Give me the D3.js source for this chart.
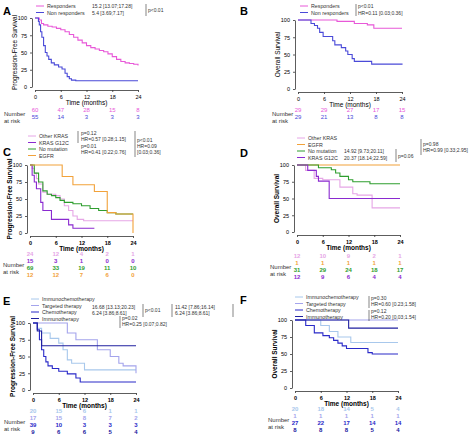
<!DOCTYPE html>
<html><head><meta charset="utf-8">
<script src="https://cdn.jsdelivr.net/npm/d3@7"></script>
<style>body{margin:0;background:#fff}text{font-family:"Liberation Sans",Arial,sans-serif}</style>
</head><body><svg id="c" width="474" height="440"></svg>
<script>
// survival curves: [months, % surviving]
const aResp = [[0,100],[1,97],[1.5,92],[2,90],[3,88],[4,87],[5,85],[6,83],[7,80],[8,76],[9,72],[10,68],[11,64],[12,60],[13,57],[14,55],[15,53],[16,51],[17,48],[18,44],[19,40],[20,37],[21,35],[22,34],[23,33],[24,31]];
const aNon = [[0,100],[0.8,95],[1,90],[1.3,80],[1.6,72],[2,60],[2.4,50],[2.8,45],[3.2,40],[3.8,35],[4.5,32],[5.5,29],[6.3,26],[7,20],[7.5,15],[8,12],[8.5,10],[9.5,9],[24,9]];
const bResp = [[0,100],[9,98],[13,95],[16,93],[17.5,88],[24,88]];
const bNon = [[0,100],[3,95],[3.8,92],[4.5,88],[5,82],[5.8,76],[8,70],[8.5,64],[10,60],[11,55],[11.5,50],[12.5,44],[13,40],[17,36],[24,35]];
const cOther = [[0,100],[0.5,95],[1,88],[1.5,80],[2,72],[3,60],[4,57],[6,55],[7,50],[8,40],[9,33],[10,25],[11,20],[12.5,18],[24,18]];
const cG12C = [[0,100],[0.5,85],[1,75],[1.5,65],[2.5,45],[3,33],[5,20],[9,12],[10,7],[15,7]];
const cNoMut = [[0,100],[1,88],[2,75],[3,62],[4,57],[5,55],[6,52],[7,48],[8,45],[10,43],[12,40],[14,36],[16,33],[18,30],[20,28],[24,28]];
const cEGFR = [[0,100],[7.5,83],[10,71],[15,61],[18,30],[20,28],[23.9,28],[24,0]];
const dEGFR = [[0,100],[24,100]];
const dNoMut = [[0,100],[5,96],[8,93],[9,88],[10,83],[12,78],[13,75],[17,72],[24,72]];
const dG12C = [[0,100],[2.5,92],[4.5,83],[5,76],[7.5,50],[24,50]];
const dOther = [[0,100],[2,92],[4,80],[6,78],[10,67],[13,57],[14,55],[17.5,36],[24,36]];
const eImmChemo = [[0,100],[1,92],[2,85],[4,77],[6,70],[7,60],[8,45],[9,40],[12,30],[24,30]];
const eTarget = [[0,100],[4,100],[8,85],[10,75],[15,60],[18,50],[20,40],[21,36],[23.9,36],[24,25]];
const eChemo = [[0,100],[1,90],[1.5,75],[2,60],[2.5,50],[3,42],[3.5,36],[4.5,32],[6,28],[8,24],[10,18],[11,12],[24,12]];
const eImmuno = [[0,100],[1,88],[2,66],[24,66]];
const fImmChemo = [[0,100],[6,92],[8,83],[10,75],[13,67],[24,67]];
const fTarget = [[0,100],[24,100]];
const fChemo = [[0,100],[2.5,92],[4.5,81],[6.5,77],[8,74],[9,70],[10,66],[11,62],[12,58],[17,52],[18,50],[24,50]];
const fImmuno = [[0,100],[12.5,88],[24,88]];
// number at risk rows
const timeTicks = [0,6,12,18,24];
const yTicks = [0,25,50,75,100];
const riskA = [[60,47,28,15,8],[55,14,3,3,3]];
const riskB = [[29,29,27,17,15],[29,21,13,8,8]];
const riskC = [[24,12,4,2,1],[15,3,1,0,0],[69,33,19,11,10],[12,12,7,6,0]];
const riskD = [[12,10,9,2,1],[1,1,1,1,1],[31,29,24,18,17],[12,9,6,4,4]];
const riskE = [[20,15,6,1,1],[17,15,8,7,2],[39,10,3,3,3],[9,6,6,5,4]];
const riskF = [[20,18,14,5,4],[1,1,1,1,1],[27,22,17,14,14],[8,8,8,5,4]];

const pink="#e858d8", blue="#4a4ad8", lpink="#e6a6e6", purple="#8a2ad0", green="#2f9e2f", orange="#f2a23a",
      lblue="#a8c8ec", lav="#a4a4ec", dblue="#2a2ac8", navy="#2020a0";

const svg = d3.select("#c");

function panel(o){
  const x = d3.scaleLinear().domain([0,24]).range([o.x0,o.x1]);
  const y = d3.scaleLinear().domain([0,100]).range([o.y0,o.y1]);
  const g = svg.append("g");
  g.append("text").attr("x",o.lx).attr("y",o.ly).attr("font-size",11).attr("font-weight","bold").text(o.letter);
  g.append("g").attr("transform",`translate(0,${o.y0+3})`)
    .call(d3.axisBottom(x).tickValues(timeTicks).tickSize(2).tickSizeOuter(0))
    .call(a=>a.selectAll("text").attr("font-size",5.5).attr("font-weight",o.bold?"bold":null));
  g.append("g").attr("transform",`translate(${o.x0-3},0)`)
    .call(d3.axisLeft(y).tickValues(yTicks).tickSize(2).tickSizeOuter(0))
    .call(a=>a.selectAll("text").attr("font-size",5.5));
  g.selectAll(".domain,.tick line").attr("stroke","#333").attr("stroke-width",0.8);
  g.append("text").attr("x",(o.x0+o.x1)/2).attr("y",o.y0+18).attr("text-anchor","middle")
    .attr("font-size",6.5).attr("font-weight",o.bold?"bold":null).text("Time (months)");
  g.append("text").attr("transform",`translate(${o.x0-18},${(o.y0+o.y1)/2}) rotate(-90)`)
    .attr("text-anchor","middle").attr("font-size",6.5).attr("font-weight",o.bold?"bold":null).text(o.ylab);
  const line = d3.line().x(d=>x(d[0])).y(d=>y(d[1])).curve(d3.curveStepAfter);
  o.series.forEach(s=>{
    g.append("path").datum(s.data).attr("d",line).attr("fill","none").attr("stroke",s.color).attr("stroke-width",1.1);
  });
  // legend
  o.series.forEach((s,i)=>{
    const ly = o.legY + i*6.5;
    g.append("line").attr("x1",o.legX).attr("x2",o.legX+8).attr("y1",ly-2).attr("y2",ly-2).attr("stroke",s.color).attr("stroke-width",1);
    g.append("text").attr("x",o.legX+11).attr("y",ly).attr("font-size",5.3).attr("fill","#333").text(s.name);
  });
  (o.notes||[]).forEach(n=>{
    g.append("text").attr("x",n[0]).attr("y",n[1]).attr("font-size",5).attr("fill","#333").text(n[2]);
  });
  (o.bars||[]).forEach(b=>{
    g.append("line").attr("x1",b[0]).attr("x2",b[0]).attr("y1",b[1]).attr("y2",b[2]).attr("stroke","#333").attr("stroke-width",0.6);
  });
  // risk table
  const n = o.risk.length;
  const mid = o.riskY + (n-1)*3.5;
  g.append("text").attr("x",o.rlx).attr("y",mid).attr("font-size",6).attr("fill","#333").text("Number");
  g.append("text").attr("x",o.rlx).attr("y",mid+7).attr("font-size",6).attr("fill","#333").text("at risk");
  o.risk.forEach((row,i)=>{
    g.selectAll(null).data(row).enter().append("text")
      .attr("x",(d,j)=>x(timeTicks[j])).attr("y",o.riskY+i*7).attr("text-anchor","middle")
      .attr("font-size",6).attr("font-weight",o.bold?"bold":null).attr("fill",o.series[i].color).text(d=>d);
  });
}

panel({letter:"A",lx:3,ly:15,x0:35,x1:138,y0:87,y1:18,ylab:"Progression-Free Survival",legX:36,legY:8,rlx:4,riskY:112,risk:riskA,
  series:[{name:"Responders",data:aResp,color:pink},{name:"Non responders",data:aNon,color:blue}],
  notes:[[92,8,"15.2 [13.07;17.28]"],[92,14.5,"5.4 [3.69;7.17]"],[148,12,"p<0.01"]],bars:[[146,4,16]]});
panel({letter:"B",lx:240,ly:15,x0:298,x1:402,y0:89,y1:20,ylab:"Overall Survival",legX:300,legY:8,rlx:272,riskY:112,risk:riskB,
  series:[{name:"Responders",data:bResp,color:pink},{name:"Non responders",data:bNon,color:blue}],
  notes:[[358,8,"p<0.01"],[358,14.5,"HR=0.11 [0.03;0.36]"]],bars:[[356,4,16]]});
panel({letter:"C",lx:3,ly:156,x0:30,x1:133,y0:233,y1:165,ylab:"Progression-Free Survival",bold:true,legX:28,legY:138,rlx:3,riskY:256,risk:riskC,
  series:[{name:"Other KRAS",data:cOther,color:lpink},{name:"KRAS G12C",data:cG12C,color:purple},{name:"No mutation",data:cNoMut,color:green},{name:"EGFR",data:cEGFR,color:orange}],
  notes:[[81,135,"p=0.12"],[81,141,"HR=0.57 [0.28;1.15]"],[81,148,"p=0.01"],[81,154,"HR=0.41 [0.22;0.76]"],[137,142,"p<0.01"],[137,148,"HR=0.09"],[137,154,"[0.03;0.36]"]],
  bars:[[78,131,143],[135,131,157]]});
panel({letter:"D",lx:240,ly:157,x0:297,x1:400,y0:232,y1:165,ylab:"Overall Survival",bold:true,legX:297,legY:140,rlx:270,riskY:258,risk:riskD,
  series:[{name:"Other KRAS",data:dOther,color:lpink},{name:"EGFR",data:dEGFR,color:orange},{name:"No mutation",data:dNoMut,color:green},{name:"KRAS G12C",data:dG12C,color:purple}],
  notes:[[344,153,"14.92 [9.73;20.11]"],[344,159.5,"20.37 [18.14;22.59]"],[398,158,"p=0.06"],[423,146,"p=0.98"],[423,152,"HR=0.99 [0.33;2.95]"]],
  bars:[[396,149,162],[421,139,155]]});
panel({letter:"E",lx:3,ly:305,x0:33,x1:136,y0:390,y1:323,ylab:"Progression-Free Survival",bold:true,legX:31,legY:301,rlx:4,riskY:413,risk:riskE,
  series:[{name:"Immunochemotherapy",data:eImmChemo,color:lblue},{name:"Targeted therapy",data:eTarget,color:lav},{name:"Chemotherapy",data:eChemo,color:dblue},{name:"Immunotherapy",data:eImmuno,color:navy}],
  notes:[[92,309,"16.68 [13.13;20.23]"],[92,315,"6.24 [3.86;8.61]"],[145,312,"p<0.01"],[175,309,"11.42 [7.86;16.14]"],[175,315,"6.24 [3.86;8.61]"],[122,320,"p=0.02"],[122,326,"HR=0.25 [0.07;0.82]"]],
  bars:[[143,304,317],[172,304,317],[120,316,328],[233,304,317]]});
panel({letter:"F",lx:240,ly:304,x0:295,x1:398,y0:388,y1:320,ylab:"Overall Survival",bold:true,legX:295,legY:299,rlx:268,riskY:411,risk:riskF,
  series:[{name:"Immunochemotherapy",data:fImmChemo,color:lblue},{name:"Targeted therapy",data:fTarget,color:lav},{name:"Chemotherapy",data:fChemo,color:dblue},{name:"Immunotherapy",data:fImmuno,color:navy}],
  notes:[[371,300,"p=0.30"],[371,306,"HR=0.60 [0.23;1.58]"],[371,313,"p=0.12"],[371,319,"HR=0.20 [0.03;1.54]"]],
  bars:[[369,296,308],[369,310,321]]});
</script></body></html>
